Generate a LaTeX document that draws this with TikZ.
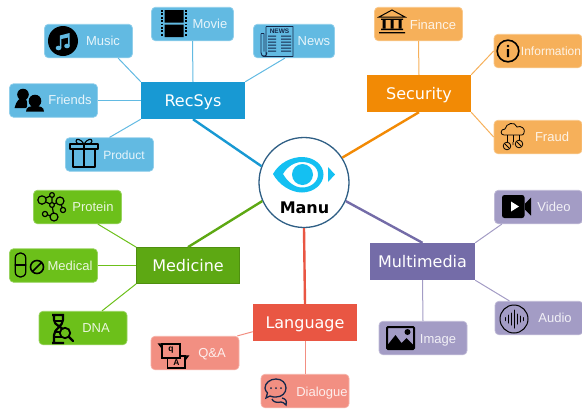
\documentclass[tikz,border=0pt]{standalone}
\usepackage{fontspec}
\setmainfont{Liberation Sans}
\newfontfamily\dejavu{DejaVu Sans}
\definecolor{blueM}{HTML}{1899D3}
\definecolor{blueL}{HTML}{62BAE2}
\definecolor{orangeM}{HTML}{F28A05}
\definecolor{orangeL}{HTML}{F6B05A}
\definecolor{greenM}{HTML}{5DA813}
\definecolor{greenL}{HTML}{6CC01A}
\definecolor{redM}{HTML}{E95643}
\definecolor{redL}{HTML}{F28F82}
\definecolor{purpleM}{HTML}{746CA8}
\definecolor{purpleL}{HTML}{A39CC5}
\definecolor{eyeblue}{HTML}{14C0F2}
\definecolor{ringblue}{HTML}{2F5F85}
\definecolor{navy}{HTML}{14284B}
\tikzset{
  mainbox/.style={rectangle,fill=#1,inner sep=0pt,minimum width=104pt,minimum height=37pt,text=white,text height=12pt,text depth=0pt,font=\dejavu\fontsize{16}{18}\selectfont},
  leafbox/.style={rectangle,rounded corners=4pt,fill=#1,draw=#1!70!white,line width=.7pt,inner sep=0pt,minimum width=88pt,minimum height=33.5pt},
  leaftext/.style={text=white,text opacity=.85,inner sep=0pt,text height=9.3pt,text depth=0pt,font=\fontsize{13}{15}\selectfont},
  mainline/.style={draw=#1,line width=2.4pt},
  leafline/.style={draw=#1,line width=1pt},
  ico/.style={draw=black,line width=1.3pt,line join=round,line cap=round},
  music icon/.pic={
    \fill[black] (0,0) circle[radius=15];
    \fill[blueL] (-4.5,7) ellipse[x radius=2.8,y radius=2.3] (4,5) ellipse[x radius=2.8,y radius=2.3];
    \fill[blueL] (-3.2,7) -- (-3.2,-5.5) -- (6.7,-8) -- (6.7,5) -- (5.2,5) -- (5.2,-3.5) -- (-1.6,-2) -- (-1.6,7) -- cycle;
  },
  movie icon/.pic={
    \fill[black] (-9.5,-13.5) rectangle (9.5,-1) (-9.5,1) rectangle (9.5,13.5);
    \draw[black,line width=2pt,dash pattern=on 1.8pt off 1.6pt] (-12,-13.5) -- (-12,13.5) (12,-13.5) -- (12,13.5);
  },
  friends icon/.pic={
    \fill[black] (-6,-5.5) circle[radius=5.8];
    \fill[black] (-14.5,8) .. controls (-13,1) and (-9,-3) .. (-5,-2) .. controls (-1,-1) and (-2,4) .. (-2,8) -- cycle;
    \fill[blueL] (6,1.5) circle[radius=7.5];
    \fill[blueL] (-4.5,12) .. controls (-4.5,7) and (0,5) .. (6,5) .. controls (12,5) and (16.5,7) .. (16.5,12) -- cycle;
    \fill[black] (6,1) circle[radius=6.3];
    \fill[black] (-3,11.5) .. controls (-3,7) and (1,6) .. (6,6) .. controls (11,6) and (15,7) .. (15,11.5) -- cycle;
  },
  gift icon/.pic={
    \draw[ico] (-11,-4) rectangle (11,14) (-14,-9) rectangle (14,-4) (0,-9) -- (0,14);
    \draw[ico,line width=1.1pt] (0,-9) .. controls (-3,-14) and (-8,-15) .. (-8,-12) .. controls (-8,-9) and (-4,-9) .. (0,-9)
      .. controls (3,-14) and (8,-15) .. (8,-12) .. controls (8,-9) and (4,-9) .. (0,-9);
  },
  news icon/.pic={
    \draw[navy,line width=.9pt,line join=round] (-11,-15) -- (16,-15) -- (16,15) -- (-11,15) .. controls (-13,15) and (-14,15) .. (-15,14);
    \draw[navy,line width=.9pt] (-11,-15) -- (-11,15) (-16,-8) -- (-16,11) .. controls (-16,16) and (-10,16) .. (-10,11) (-16,-8) -- (-13,-8) (-13,-8) -- (-13,10);
    \node[inner sep=0pt,text=navy,font=\bfseries\fontsize{6.5}{7}\selectfont] (newsword) at (2.5,-10.5) {NEWS};
    \fill[navy] (-9,-6) rectangle (-1,-4.8) (-9,-3) rectangle (-1,-1.8) (-9,0) rectangle (-1,1.2) (-9,3) rectangle (-1,4.2) (-9,6) rectangle (-1,7.2) (-9,9) rectangle (-1,10.2)
      (4,-6) rectangle (14,-4.8) (4,-3) rectangle (14,-1.8) (4,0) rectangle (14,1.2) (4,3) rectangle (14,4.2) (4,6) rectangle (14,7.2) (4,9) rectangle (14,10.2);
  },
  bank icon/.pic={
    \draw[black,line width=1pt,line join=miter] (-13,-5) -- (0,-12) -- (13,-5) -- cycle;
    \fill[black] (-11,-3.5) rectangle (11,-2.2) (-11,6.5) rectangle (11,8) (-13,10) rectangle (13,11.3);
    \fill[black] (-9.5,-2.2) rectangle (-6.5,6.5) (-1.5,-2.2) rectangle (1.5,6.5) (6.5,-2.2) rectangle (9.5,6.5);
  },
  info icon/.pic={
    \draw[black,line width=1.6pt] (0,0) circle[radius=10.8];
    \fill[black] (0,-5) circle[radius=1.4] (-1.2,-2) rectangle (1.2,6);
  },
  fraud icon/.pic={
    \draw[black,line width=.8pt,line join=round] (-9,-2) .. controls (-13,-2) and (-13,-8) .. (-8,-8) .. controls (-7,-14) and (2,-16) .. (4,-10) .. controls (8,-12) and (13,-8) .. (11,-4) .. controls (11,-2) and (9,-2) .. (8,-2) -- cycle;
    \draw[black,line width=.8pt] (-6,-2) -- (-6,5) (0,-2) -- (0,5) (6,-2) -- (6,3);
    \draw[black,line width=.8pt] (-6,9) circle[radius=3.8] (6,7) circle[radius=3.8];
    \draw[black,line width=.8pt] (-8,7) -- (-4,11) (4,5) -- (8,9) (0,5) -- (0,8);
  },
  protein icon/.pic={
    \draw[ico,line width=1.2pt] (-10,-7) -- (0,-2) -- (8,-6) -- (11,3) (0,-12) -- (-10,-7) (8,-6) -- (0,-2) -- (2,10) -- (-7,7) (0,-12) -- (0,-2) (0,-2) -- (2,10);
    \foreach \px/\py/\pr in {-10/-7/4.2,0/-12/2.4,8/-6/4,11/3/2.6,2/10/4,-7/7/2.6,0/-2/2.4}
      \filldraw[ico,line width=1.2pt,fill=greenL] (\px,\py) circle[radius=\pr];
  },
  pill icon/.pic={
    \draw[ico] (-5.3,-6.5) .. controls (-5.3,-14) and (5.3,-14) .. (5.3,-6.5) -- (5.3,6.5) .. controls (5.3,14) and (-5.3,14) .. (-5.3,6.5) -- cycle;
    \draw[ico] (-5.3,0) -- (5.3,0);
    \draw[ico,line width=1.6pt] (16.5,2) circle[radius=6.5] (12,6.5) -- (21,-2.5);
  },
  dna icon/.pic={
    \draw[ico,line width=2.2pt,line cap=butt] (-10,-14) -- (2,-14) (-10,14) -- (2,14)
      (-8,-14) -- (-8,-9) .. controls (-8,-3) and (1,-3) .. (2,3)
      (1,-14) -- (1,-9) .. controls (1,-3) and (-8,0) .. (-8,6) -- (-8,14);
    \draw[ico,line width=1.7pt,line cap=butt] (-7,-8) -- (1,-8) (-8,8) -- (0,8) (-6,3) -- (-1,3);
    \filldraw[ico,line width=1.8pt,fill=greenL] (3,4) circle[radius=5.2];
    \draw[ico,line width=2.2pt] (7,8) -- (11,12);
  },
  qa icon/.pic={
    \filldraw[black,line width=1.9pt,fill=redL,line join=miter] (-5.5,2) rectangle (12,14);
    \draw[black,line width=1.4pt] (12,2) -- (15,2) -- (12,6);
    \node[inner sep=0pt,font=\bfseries\fontsize{8.5}{9}\selectfont] (qaA) at (3.5,8.5) {A};
    \filldraw[black,line width=1.9pt,fill=redL,line join=miter] (-11,-10) rectangle (7,4);
    \draw[black,line width=1.4pt] (-11,-10) -- (-14,-10) -- (-11,-6);
    \node[inner sep=0pt,font=\bfseries\fontsize{8.5}{9}\selectfont] (qaQ) at (-2,-3.5) {q};
  },
  dialogue icon/.pic={
    \draw[navy,line width=1.3pt] (6,9) .. controls (10,10) and (11,12) .. (10,16) .. controls (8,14) and (7,13) .. (5,13) .. controls (1,14) and (-3,13) .. (-4,10);
    \filldraw[navy,line width=1.3pt,fill=redL] (0,-10) .. controls (6,-10) and (10,-6) .. (10,-1) .. controls (10,4) and (6,8) .. (0,8) .. controls (-2,8) and (-4,8) .. (-6,7) -- (-10,9) -- (-8.5,4) .. controls (-10,2) and (-11,1) .. (-11,-1) .. controls (-11,-6) and (-6,-10) .. (0,-10) -- cycle;
    \fill[navy] (-5,-1) circle[radius=1] (0,-1) circle[radius=1] (5,-1) circle[radius=1];
  },
  image icon/.pic={
    \draw[black,line width=2pt,rounded corners=1pt] (-13.5,-11) rectangle (13.5,11);
    \fill[black] (-13,11) -- (-13,7) -- (-5,-3) -- (1,5) -- (6,0) -- (13,7) -- (13,11) -- cycle;
    \fill[black] (7,-6) circle[radius=3];
  },
  audio icon/.pic={
    \draw[black,line width=1pt] (0,0) circle[radius=14];
    \draw[black,line width=1pt,line cap=round] (-9,-1.5) -- (-9,1.5) (-6,-4) -- (-6,4) (-3,-6) -- (-3,6) (0,-9) -- (0,9) (3,-5) -- (3,5) (6,-3) -- (6,3) (9,-1.5) -- (9,1.5);
  },
  video icon/.pic={
    \fill[black,rounded corners=2.5pt] (-14.5,-11.5) rectangle (8,11.5);
    \fill[black] (8.5,-3) -- (14.5,-9) -- (14.5,9) -- (8.5,3) -- cycle;
    \fill[white] (-5.5,-5) -- (2.5,0) -- (-5.5,5) -- cycle;
  }
}
\begin{document}
\begin{tikzpicture}[x=1pt,y=-1pt]
\useasboundingbox (0,0) rectangle (582,408);
% centre
\node[circle,draw=ringblue,fill=white,line width=1.3pt,minimum size=90pt,inner sep=0pt] (manu) at (304,182.5) {};
\fill[eyeblue,even odd rule]
  (273,174) .. controls (279,163) and (291,157) .. (302,157) .. controls (314,157) and (323.5,165) .. (323.5,174.5)
  .. controls (323.5,184) and (314,192.5) .. (302,192.5) .. controls (291,192.5) and (279,185) .. (273,174) -- cycle
  (283,174) .. controls (287,167) and (294,162) .. (302,162) .. controls (311,162) and (318,167) .. (318,174.5)
  .. controls (318,182) and (311,187.5) .. (302,187.5) .. controls (294,187.5) and (287,181) .. (283,174) -- cycle;
\fill[eyeblue] (302.5,174.5) circle[radius=10.5];
\fill[eyeblue] (328,167) -- (335,174.5) -- (328,182) -- cycle;
\node[inner sep=0pt,font=\dejavu\bfseries\fontsize{16}{18}\selectfont] (manutext) at (304.5,207.5) {Manu};
% main boxes
\node[mainbox=blueM] (recsys) at (193,100.5) {RecSys};
\node[mainbox=orangeM] (security) at (419,93.5) {Security};
\node[mainbox=greenM,draw=greenM!85!black,line width=.8pt,minimum width=103pt,minimum height=36pt] (medicine) at (188,265.5) {Medicine};
\node[mainbox=redM] (language) at (305,322.5) {Language};
\node[mainbox=purpleM,minimum width=105pt] (multimedia) at (422.5,261.5) {Multimedia};
% leaf boxes
\node[leafbox=blueL] (music) at (88.5,41) {};
\node[leafbox=blueL,minimum width=82pt] (movie) at (192.5,24) {};
\node[leafbox=blueL] (friends) at (53.5,100.5) {};
\node[leafbox=blueL] (product) at (109.5,154.5) {};
\node[leafbox=blueL,minimum width=81pt] (news) at (294,41) {};
\node[leafbox=orangeL] (finance) at (418.5,24) {};
\node[leafbox=orangeL,minimum width=88pt] (information) at (538,51) {};
\node[leafbox=orangeL,minimum width=88pt] (fraud) at (538,137) {};
\node[leafbox=greenL] (protein) at (77.5,207) {};
\node[leafbox=greenL] (medical) at (53.5,265.5) {};
\node[leafbox=greenL] (dna) at (83,328) {};
\node[leafbox=redL] (qa) at (195,353) {};
\node[leafbox=redL] (dialogue) at (305,391) {};
\node[leafbox=purpleL] (image) at (423,338) {};
\node[leafbox=purpleL] (audio) at (539,318) {};
\node[leafbox=purpleL] (video) at (538.5,207) {};
% main connectors
\draw[mainline=blueM] (recsys.south) -- (manu.159);
\draw[mainline=orangeM] (security.south) -- (manu.33);
\draw[mainline=greenM] (medicine.north) -- (manu.204);
\draw[mainline=redM] (language.north) -- (manu.south);
\draw[mainline=purpleM] (multimedia.north) -- (manu.-24);
% leaf connectors
\draw[leafline=blueL] (music.-30) -- (recsys.north west);
\draw[leafline=blueL] (movie.south) -- (recsys.north);
\draw[leafline=blueL] (friends.east) -- (recsys.west);
\draw[leafline=blueL] (product.north) -- (recsys.south west);
\draw[leafline=blueL] (news.242) -- (recsys.north east);
\draw[leafline=orangeL] (finance.south) -- (security.north);
\draw[leafline=orangeL] (information.west) -- (security.north east);
\draw[leafline=orangeL] (fraud.west) -- (security.south east);
\draw[leafline=greenL] (protein.-40) -- (medicine.north west);
\draw[leafline=greenL] (medical.east) -- (medicine.west);
\draw[leafline=greenL] (dna.42) -- (medicine.south west);
\draw[leafline=redL] (qa.22) -- (language.190);
\draw[leafline=redL] (dialogue.north) -- (language.south);
\draw[leafline=purpleL] (image.north) -- (multimedia.south);
\draw[leafline=purpleL] (audio.150) -- (multimedia.south east);
\draw[leafline=purpleL] (video.205) -- (multimedia.north east);
% leaf labels
\node[leaftext] (musict) at (103,41) {Music};
\node[leaftext] (moviet) at (210,24) {Movie};
\node[leaftext] (friendst) at (70,100) {Friends};
\node[leaftext,font=\fontsize{12}{14}\selectfont] (productt) at (124,155) {Product};
\node[leaftext] (newst) at (314,41) {News};
\node[leaftext] (financet) at (433,25) {Finance};
\node[leaftext,font=\fontsize{12}{14}\selectfont] (informationt) at (551,51) {Information};
\node[leaftext] (fraudt) at (552,137) {Fraud};
\node[leaftext] (proteint) at (93,207) {Protein};
\node[leaftext] (medicalt) at (70,266) {Medical};
\node[leaftext] (dnat) at (96,328) {DNA};
\node[leaftext] (qat) at (212,353) {Q\&A};
\node[leaftext] (dialoguet) at (322,392) {Dialogue};
\node[leaftext] (imaget) at (438,339) {Image};
\node[leaftext] (audiot) at (555,318) {Audio};
\node[leaftext] (videot) at (554,207) {Video};
% icons
\pic at (63,41) {music icon};
\pic at (174,23.5) {movie icon};
\pic at (29,100) {friends icon};
\pic at (84,153) {gift icon};
\pic at (277,41.5) {news icon};
\pic at (392,22) {bank icon};
\pic at (508,51) {info icon};
\pic at (513,137) {fraud icon};
\pic at (52,207) {protein icon};
\pic at (20.5,265) {pill icon};
\pic at (62,329) {dna icon};
\pic at (173,354) {qa icon};
\pic at (276,389) {dialogue icon};
\pic at (400.5,338) {image icon};
\pic at (514,319) {audio icon};
\pic at (516.5,206.5) {video icon};
\end{tikzpicture}
\end{document}
